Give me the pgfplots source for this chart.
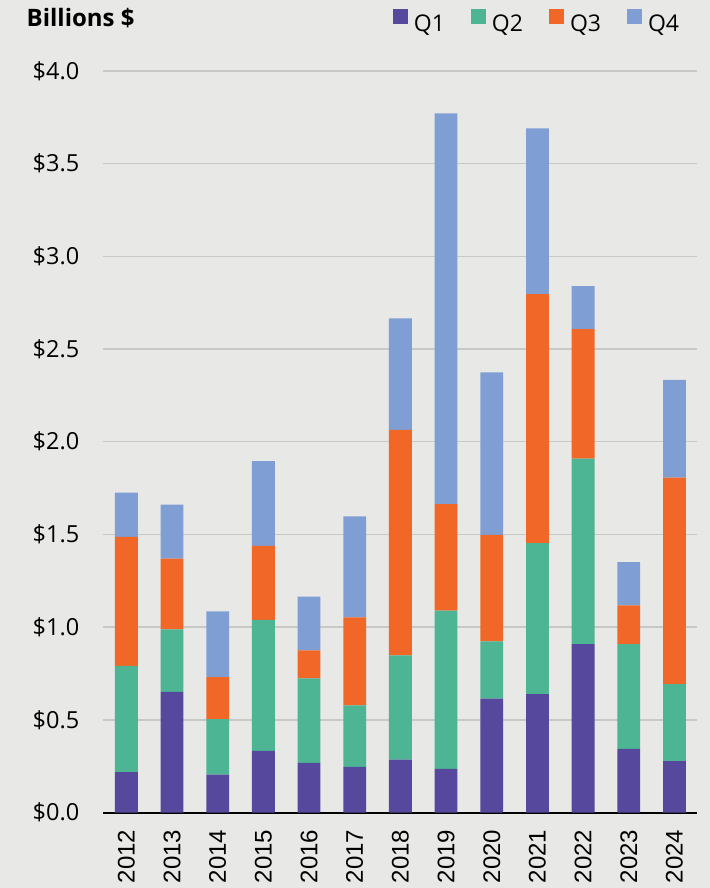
\documentclass[border=0pt]{standalone}
\usepackage{fontspec}
\setmainfont{Open Sans}
\newfontfamily\yearfont{Liberation Sans}
\usepackage{pgfplots}
\pgfplotsset{compat=1.18}
\usepackage{pgfplotstable}
\definecolor{bg}{HTML}{E8E8E6}
\definecolor{gridc}{HTML}{C8C8C6}
\definecolor{qa}{HTML}{55489D}
\definecolor{qb}{HTML}{4DB594}
\definecolor{qc}{HTML}{F06728}
\definecolor{qd}{HTML}{7F9FD4}
\pgfplotstableread{
x Q1 Q2 Q3 Q4
0 0.218 0.573 0.696 0.239
1 0.651 0.337 0.382 0.291
2 0.204 0.300 0.226 0.355
3 0.333 0.706 0.399 0.457
4 0.268 0.455 0.151 0.291
5 0.246 0.332 0.475 0.545
6 0.285 0.562 1.217 0.602
7 0.235 0.854 0.574 2.109
8 0.614 0.309 0.575 0.876
9 0.639 0.814 1.344 0.894
10 0.908 1.001 0.699 0.232
11 0.343 0.565 0.210 0.233
12 0.277 0.416 1.113 0.528
}\datatable
\begin{document}
\begin{tikzpicture}
\fill[bg] (-103.5bp,-75.5bp) rectangle (606.5bp,812.5bp);
\begin{axis}[
  at={(0,0)}, anchor=south west,
  width=593.8bp, height=741.5bp, scale only axis,
  /pgf/number format/assume math mode=true,
  ybar stacked, bar width=0.5,
  xmin=-0.5, xmax=12.5, ymin=0, ymax=4,
  enlargelimits=false, clip=false,
  axis x line*=bottom, axis y line*=left,
  x axis line style={draw=none},
  y axis line style={draw=none},
  major tick length=0pt,
  tick style={draw=none},
  ymajorgrids, grid style={gridc, line width=1.4bp},
  ytick={0,0.5,...,4},
  yticklabel={\$\pgfmathprintnumber[fixed,fixed zerofill,precision=1]{\tick}},
  yticklabel style={anchor=east, inner sep=0pt, xshift=-24bp, font=\fontsize{23.5bp}{28bp}\selectfont},
  xtick={0,...,12},
  xticklabels={2012,2013,2014,2015,2016,2017,2018,2019,2020,2021,2022,2023,2024},
  xticklabel style={rotate=90, anchor=east, inner sep=0pt, xshift=-17bp, font=\yearfont\fontsize{24bp}{28bp}\selectfont},
  legend columns=4,
  legend image code/.code={\path[#1,draw=none] (0bp,0bp) rectangle (15bp,15bp);},
  legend style={at={(axis description cs:0.487,1.067)}, anchor=west, draw=none, fill=none, inner sep=0pt,
    font=\fontsize{23bp}{27bp}\selectfont,
    nodes={inner sep=0pt},
    /tikz/every odd column/.append style={column sep=6bp},
    /tikz/every even column/.append style={column sep=26bp}},
]
\addplot[fill=qa, draw=none] table[x=x, y=Q1] {\datatable};
\addplot[fill=qb, draw=none] table[x=x, y=Q2] {\datatable};
\addplot[fill=qc, draw=none] table[x=x, y=Q3] {\datatable};
\addplot[fill=qd, draw=none] table[x=x, y=Q4] {\datatable};
\legend{Q1,Q2,Q3,Q4}
\draw[black, line width=2bp] (axis cs:-0.5,0) -- (axis cs:12.5,0);
\end{axis}
\node[anchor=base west, inner sep=0pt, font=\bfseries\fontsize{24bp}{28bp}\selectfont] at (-77bp,786bp) {Billions \$};
\end{tikzpicture}
\end{document}
